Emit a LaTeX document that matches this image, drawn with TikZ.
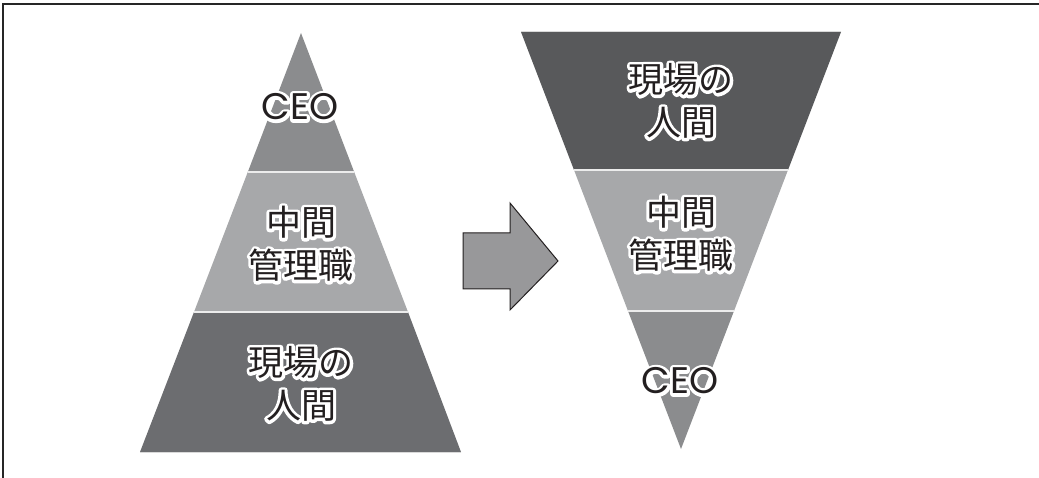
\documentclass[tikz,border=0pt]{standalone}
\usepackage{fontspec}
\newfontfamily\cjk{Noto Sans CJK JP}
\newfontfamily\latn{Poppins}
\definecolor{gtop}{HTML}{8B8C8E}
\definecolor{gmid}{HTML}{A7A8AA}
\definecolor{gbot}{HTML}{6C6D70}
\definecolor{gdark}{HTML}{58595B}
\definecolor{garrow}{HTML}{98989A}
\definecolor{ink}{HTML}{231F20}
\newcommand\outl{\special{pdf:literal direct 1 Tr 6 w 1 J 1 j}}
\newcommand\outlend{\special{pdf:literal direct 0 Tr}}
\tikzset{
  lbl/.style={font=\cjk\fontsize{35}{43}\selectfont, align=center, inner sep=0pt, text=ink},
  ceo/.style={lbl, font=\latn\fontsize{37}{43}\selectfont},
  halo/.style={text=white},
  sep/.style={draw=white!85!gray, line width=1.6pt},
}
\newcommand\hlab[4]{%
  \node[#4,halo] at (#2) {\outl #3\outlend};
  \node[#4] (#1) at (#2) {#3};}
\begin{document}
\begin{tikzpicture}[x=1pt,y=-1pt]
\useasboundingbox (0,0) rectangle (1039,478);
% frame
\draw[line width=1.3pt, black!85] (3,478) -- (3,4) -- (1039,4);
% left pyramid
\fill[gtop] (301,33) -- (354.2,172) -- (247.8,172) -- cycle;
\fill[gmid] (247.8,172) -- (354.2,172) -- (408,312) -- (194,312) -- cycle;
\fill[gbot] (194,312) -- (408,312) -- (461,452) -- (140,452) -- cycle;
\draw[sep] (247.8,172) -- (354.2,172);
\draw[sep] (194,312) -- (408,312);
\draw[draw=white!70!gray, line width=1pt] (140,452) -- (461,452);
% right inverted pyramid
\fill[gdark] (521,32) -- (841,32) -- (788,170) -- (574,170) -- cycle;
\fill[gmid] (574,170) -- (788,170) -- (734,311) -- (628,311) -- cycle;
\fill[gtop] (628,311) -- (734,311) -- (681,449) -- cycle;
\draw[sep] (574,170) -- (788,170);
\draw[sep] (628,311) -- (734,311);
\draw[draw=white!70!gray, line width=1pt] (521,32) -- (841,32);
% arrow
\draw[fill=garrow, draw=ink, line width=1pt, line join=miter]
  (463,233) -- (510,233) -- (510,203) -- (558,261) -- (510,310) -- (510,289) -- (463,289) -- cycle;
% labels
\hlab{lceo}{300,107}{CEO}{ceo}
\hlab{lmid}{301,244}{中間\\管理職}{lbl}
\hlab{lbot}{301,384}{現場の\\人間}{lbl}
\hlab{rtop}{681,101}{現場の\\人間}{lbl}
\hlab{rmid}{681,234}{中間\\管理職}{lbl}
\hlab{rceo}{680,381}{CEO}{ceo}
\end{tikzpicture}
\end{document}
